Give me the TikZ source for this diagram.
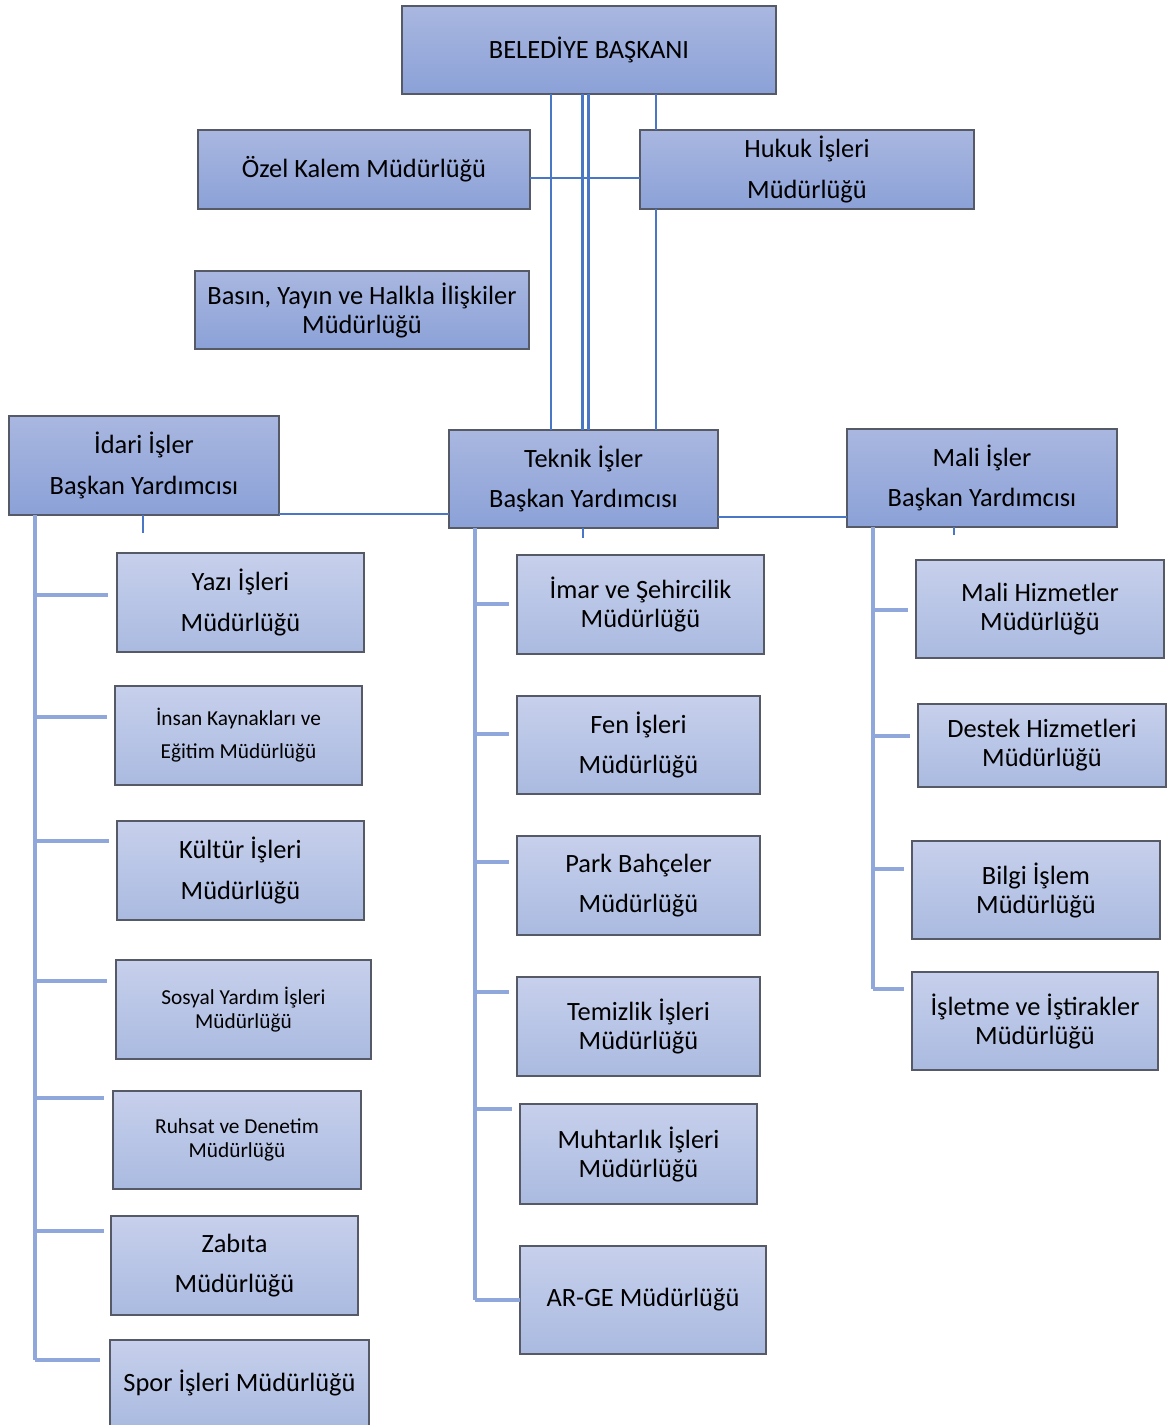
\documentclass[tikz,border=0pt]{standalone}
\usepackage{fontspec}
\setmainfont{Carlito}
\usetikzlibrary{positioning}
\definecolor{hatmavi}{HTML}{4A76C6}
\definecolor{dalmavi}{HTML}{8FA7DB}
\definecolor{kenar}{HTML}{555A66}
\tikzset{
  kutu/.style 2 args={draw=kenar, line width=1.1pt, inner sep=0pt, outer sep=0pt,
      align=center, minimum width=#1*0.75pt, minimum height=#2*0.75pt},
  ustkutu/.style={top color={rgb,255:red,169;green,183;blue,224}, bottom color={rgb,255:red,139;green,161;blue,215}},
  altkutu/.style={top color={rgb,255:red,199;green,208;blue,236}, bottom color={rgb,255:red,170;green,186;blue,224}},
  genis/.style={font=\fontsize{19.8}{30.5}\selectfont},
  sik/.style={font=\fontsize{19.8}{21.75}\selectfont},
  kgenis/.style={font=\fontsize{16}{24.75}\selectfont},
  ksik/.style={font=\fontsize{16}{18}\selectfont},
  anahat/.style={draw=hatmavi, line width=2.2pt},
  dal/.style={draw=dalmavi, line width=2.5pt},
}
\begin{document}
\begin{tikzpicture}[x=0.75pt, y=-0.75pt]
      \useasboundingbox (0,0) rectangle (1167,1425);

      % baskan ve bagli mudurlukler
      \node [kutu={374}{88}, ustkutu, genis] (baskan) at (589,50) {BELEDİYE BAŞKANI};
      \node [kutu={332}{79}, ustkutu, genis] (ozel) at (364,169.5) {Özel Kalem Müdürlüğü};
      \node [kutu={334}{79}, ustkutu, genis] (hukuk) at (807,169.5) {Hukuk İşleri\\Müdürlüğü};
      \node [kutu={334}{78}, ustkutu, sik] (basin) at (362,310) {Basın, Yayın ve Halkla İlişkiler\\Müdürlüğü};

      % baskan yardimcilari
      \node [kutu={270}{99}, ustkutu, genis] (idari) at (144,465.5) {İdari İşler\\Başkan Yardımcısı};
      \node [kutu={269}{98}, ustkutu, genis] (teknik) at (583.5,479) {Teknik İşler\\Başkan Yardımcısı};
      \node [kutu={270}{98}, ustkutu, genis] (mali) at (982,478) {Mali İşler\\Başkan Yardımcısı};

      % idari isler
      \node [kutu={247}{99}, altkutu, genis] (yazi) at (240.5,602.5) {Yazı İşleri\\Müdürlüğü};
      \node [kutu={247}{99}, altkutu, kgenis] (insan) at (238.5,735.5) {İnsan Kaynakları ve\\Eğitim Müdürlüğü};
      \node [kutu={247}{99}, altkutu, genis] (kultur) at (240.5,870.5) {Kültür İşleri\\Müdürlüğü};
      \node [kutu={255}{99}, altkutu, ksik] (sosyal) at (243.5,1009.5) {Sosyal Yardım İşleri\\Müdürlüğü};
      \node [kutu={248}{98}, altkutu, ksik] (ruhsat) at (237,1140) {Ruhsat ve Denetim\\Müdürlüğü};
      \node [kutu={247}{99}, altkutu, genis] (zabita) at (234.5,1265.5) {Zabıta\\Müdürlüğü};
      \node [kutu={259}{86}, altkutu, genis] (spor) at (239.5,1383) {Spor İşleri Müdürlüğü};

      % teknik isler
      \node [kutu={247}{99}, altkutu, sik] (imar) at (640.5,604.5) {İmar ve Şehircilik\\Müdürlüğü};
      \node [kutu={243}{98}, altkutu, genis] (fen) at (638.5,745) {Fen İşleri\\Müdürlüğü};
      \node [kutu={243}{99}, altkutu, genis] (park) at (638.5,885.5) {Park Bahçeler\\Müdürlüğü};
      \node [kutu={243}{99}, altkutu, sik] (temizlik) at (638.5,1026.5) {Temizlik İşleri\\Müdürlüğü};
      \node [kutu={237}{100}, altkutu, sik] (muhtar) at (638.5,1154) {Muhtarlık İşleri\\Müdürlüğü};
      \node [kutu={246}{108}, altkutu, genis] (arge) at (643,1300) {AR-GE Müdürlüğü};

      % mali isler
      \node [kutu={248}{98}, altkutu, sik] (malih) at (1040,609) {Mali Hizmetler\\Müdürlüğü};
      \node [kutu={248}{83}, altkutu, sik] (destek) at (1042,745.5) {Destek Hizmetleri\\Müdürlüğü};
      \node [kutu={248}{98}, altkutu, sik] (bilgi) at (1036,890) {Bilgi İşlem\\Müdürlüğü};
      \node [kutu={246}{98}, altkutu, sik] (isletme) at (1035,1021) {İşletme ve İştirakler\\Müdürlüğü};

      % ust baglantilar
      \foreach \X in {551, 582.5, 588.5}{
          \draw [anahat] (baskan.south -| \X,0) -- (teknik.north -| \X,0);
        }
      \draw [anahat] (baskan.south -| 656,0) -- (hukuk.north -| 656,0);
      \draw [anahat] (hukuk.south -| 656,0) -- (teknik.north -| 656,0);
      \draw [anahat] (ozel.east |- 0,178) -- (hukuk.west |- 0,178);
      \draw [anahat] (idari.east |- 0,514) -- (teknik.west |- 0,514);
      \draw [anahat] (teknik.east |- 0,517) -- (mali.west |- 0,517);
      \draw [anahat] (idari.south -| 143,0) -- ++(0,18);
      \draw [anahat] (teknik.south -| 583,0) -- ++(0,10);
      \draw [anahat] (mali.south -| 954,0) -- ++(0,8);

      % dal hatlari
      \draw [dal] (idari.south -| 35,0) coordinate (isol) -- (isol |- 0,1360);
      \foreach \Y/\U in {595/108, 717/107, 841/109, 981/107, 1098/104, 1231/104, 1360/100}{
          \draw [dal] (isol |- 0,\Y) -- (\U,\Y);
        }
      \draw [dal] (teknik.south -| 475,0) coordinate (tsol) -- (tsol |- 0,1300);
      \foreach \Y/\U in {604/509, 734/509, 862/509, 992/509, 1109/512}{
          \draw [dal] (tsol |- 0,\Y) -- (\U,\Y);
        }
      \draw [dal] (tsol |- 0,1300) -- (arge.west |- 0,1300);
      \draw [dal] (mali.south -| 873,0) coordinate (msol) -- (msol |- 0,989);
      \foreach \Y/\U in {610/908, 736/910, 869/904, 989/904}{
          \draw [dal] (msol |- 0,\Y) -- (\U,\Y);
        }
    \end{tikzpicture}
\end{document}
